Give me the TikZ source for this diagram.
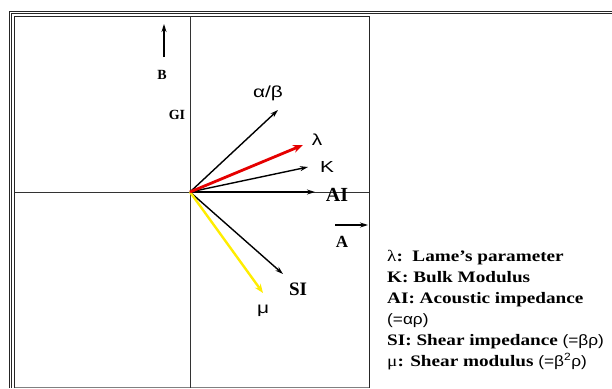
\documentclass[tikz,border=0pt]{standalone}
\usepackage{fontspec}
\usetikzlibrary{arrows.meta}
\newfontfamily\legfont[FakeStretch=1.2]{Liberation Serif}
\newfontfamily\legsans[FakeStretch=1.15]{Liberation Sans}
\newfontfamily\grk[FakeStretch=1.3]{Liberation Sans}
\newfontfamily\lblfont{Liberation Serif}
\begin{document}
\begin{tikzpicture}[x=1pt,y=-1pt,
  frame/.style={line width=0.9pt,black!85},
  axis/.style={line width=0.9pt,black!80},
  vec/.style={line width=1.4pt,-{Stealth[length=8pt,width=5pt]}},
  redvec/.style={line width=2.8pt,red!90!black,-{Stealth[length=10pt,width=8pt]}},
  yelvec/.style={line width=2.4pt,yellow!95!orange,-{Stealth[length=9pt,width=7pt]}},
  grklbl/.style={inner sep=0pt,font=\grk\fontsize{16}{16}\selectfont},
  boldlbl/.style={inner sep=0pt,font=\lblfont\bfseries},
  legline/.style={anchor=base west,inner sep=0pt,font=\legfont\bfseries\fontsize{16}{16}\selectfont}
]
\useasboundingbox (0,0) rectangle (612,388);
% outer double frame
\draw[frame] (9,388) -- (9,11) -- (612,11);
\draw[frame] (11.5,388) -- (11.5,13.5) -- (612,13.5);
% inner box
\draw[frame,line width=1pt] (14.5,388) -- (14.5,16) -- (369,16) -- (369,388);
\draw[line width=0.8pt,black!50] (14.5,387) -- (369,387);
% axes
\coordinate (xl) at (14.5,192);
\coordinate (xr) at (369,192);
\coordinate (yt) at (190,16);
\coordinate (yb) at (190,388);
\draw[axis] (xl) -- (xr);
\draw[axis] (yt) -- (yb);
% origin and tips
\coordinate (O) at (190,192);
\coordinate (tab) at (278,110);
\coordinate (tla) at (303,145);
\coordinate (tK) at (308,167);
\coordinate (tAI) at (315,192);
\coordinate (tSI) at (283,274);
\coordinate (tmu) at (263,293);
\draw[vec] (O) -- (tab);
\draw[vec] (O) -- (tK);
\draw[vec] (O) -- (tAI);
\draw[vec] (O) -- (tSI);
\draw[yelvec] (O) -- (tmu);
\draw[redvec] (O) -- (tla);
% direction arrows
\coordinate (B0) at (164,57);
\coordinate (B1) at (164,24);
\draw[vec,line width=1.1pt] (B0) -- (B1);
\coordinate (A0) at (335,225);
\coordinate (A1) at (368,225);
\draw[vec,line width=1.1pt] (A0) -- (A1);
% labels
\node[grklbl] (lab) at (268,93) {α/β};
\node[grklbl] (lla) at (317,140) {λ};
\node[grklbl] (lK) at (327,167) {K};
\node[grklbl] (lmu) at (263,311) {μ};
\node[boldlbl,font=\lblfont\bfseries\fontsize{20}{20}\selectfont] (lAI) at (337,195) {AI};
\node[boldlbl,font=\lblfont\bfseries\fontsize{19}{19}\selectfont] (lSI) at (298,289) {SI};
\node[boldlbl,font=\lblfont\bfseries\fontsize{17}{17}\selectfont] (lA) at (342,242) {A};
\node[boldlbl,font=\lblfont\bfseries\fontsize{14}{14}\selectfont] (lGI) at (177,115) {GI};
\node[boldlbl,font=\lblfont\bfseries\fontsize{14}{14}\selectfont] (lB) at (162,75) {B};
% legend
\node[legline] (g1) at (387,261) {{\mdseries λ}:\ \ Lame’s parameter};
\node[legline] (g2) at (387,282) {K: Bulk Modulus};
\node[legline] (g3) at (387,303) {AI: Acoustic impedance};
\node[legline] (g4) at (387,324) {{\legsans\mdseries\fontsize{15}{15}\selectfont (=αρ)}};
\node[legline] (g5) at (387,345) {SI: Shear impedance {\legsans\mdseries\fontsize{15}{15}\selectfont (=βρ)}};
\node[legline] (g6) at (387,366) {{\mdseries μ}: Shear modulus {\legsans\mdseries\fontsize{15}{15}\selectfont (=β\textsuperscript{2}ρ)}};
\end{tikzpicture}
\end{document}
